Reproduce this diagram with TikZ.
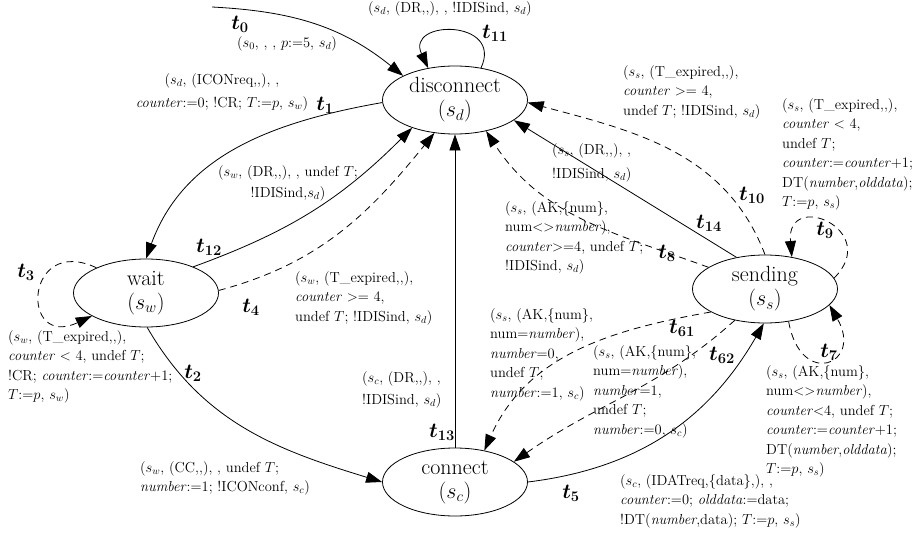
\RequirePackage{fix-cm}
\documentclass[tikz,border=0pt]{standalone}
\usepackage{amsmath}
\usepackage{bm}
\usepackage{tikz}
\usetikzlibrary{arrows.meta,shapes.geometric}

\tikzset{
  stnode/.style={draw, ellipse, line width=0.8pt, minimum width=145pt, minimum height=68pt,
    inner sep=0pt, align=center, font=\fontsize{22}{24}\selectfont},
  trans/.style={-{Triangle[length=16pt,width=11pt]}, line width=0.8pt},
  dsh/.style={trans, dash pattern=on 7pt off 5pt},
  lab/.style={anchor=north west, inner sep=0pt, align=left, font=\fontsize{14.5}{19.5}\selectfont},
  tlab/.style={inner sep=0pt, font=\fontsize{21}{22}\selectfont},
}

\begin{document}
\begin{tikzpicture}[x=1pt,y=1pt]
\useasboundingbox (0,0) rectangle (914,-535);

% 状態
\node[stnode] (disc) at (455,-100) {disconnect\\($s_d$)};
\node[stnode] (wait) at (146,-293) {wait\\($s_w$)};
\node[stnode] (send) at (765,-289) {sending\\($s_s$)};
\node[stnode] (conn) at (455,-482) {connect\\($s_c$)};
\coordinate (start) at (212,-7);

% 遷移
\draw[trans] (start) to[out=-3,in=141] (disc.155);
\draw[trans] (disc.51) to[out=65,in=115,looseness=2.6] (disc.130);
\draw[trans] (disc.182) to[out=190,in=70] (wait.90);
\draw[trans] (wait.29) to[out=20,in=225] (disc.213);
\draw[dsh] (wait.2) to[out=15,in=231] (disc.238);
\draw[dsh] (wait.153) to[out=155,in=205,looseness=4.2] (wait.203);
\draw[trans] (wait.272) to[out=-60,in=163] (conn.180);
\draw[trans] (conn.90) -- (disc.270);
\draw[trans] (conn.0) to[out=7,in=240] (send.268);
\draw[dsh] (send.203) to[out=190,in=66] (conn.47);
\draw[dsh] (send.226) to[out=222,in=35] (conn.19);
\draw[trans] (send.132) -- (disc.341);
\draw[dsh] (send.90) to[out=111,in=345] (disc.358);
\draw[dsh] (send.159) to[out=160,in=303] (disc.315);
\draw[dsh] (send.9) to[out=45,in=95,looseness=3.7] (send.50);
\draw[dsh] (send.306) to[out=-80,in=-60,looseness=4] (send.346);

% 遷移名
\foreach \n/\x/\y in {0/240/24, 1/325/105, 2/193/373, 3/26/272, 4/251/307, 5/571/493,
    61/682/328, 62/722/355, 7/829/352, 8/667/253, 9/825/230, 10/752/195,
    11/495/33, 12/209/247, 13/442/432, 14/709/223}
  \node[tlab] (t\n) at (\x,-\y) {$\bm{t}_{\mathbf{\n}}$};

% ラベル
\node[lab] (l0) at (237,-36) {($s_0$, , , $p$:=5, $s_d$)};
\node[lab] (l11) at (368,-1) {($s_d$, (DR,{},), , !IDISind, $s_d$)};
\node[lab, anchor=north, align=center] (l1) at (222,-73)
  {($s_d$, (ICONreq,{},), ,\\[4pt] \emph{counter}:=0; !CR; $T$:=$p$, $s_w$)};
\node[lab, anchor=north, align=center] (l12) at (288,-165)
  {($s_w$, (DR,{},), , undef $T$;\\[1.5pt] !IDISind,$s_d$)};
\node[lab] (l4) at (295,-271)
  {($s_w$, (T\_expired,{},),\\ \emph{counter} >= 4,\\ undef $T$; !IDISind, $s_d$)};
\node[lab] (l3) at (8,-330)
  {($s_w$, (T\_expired,{},),\\ \emph{counter} < 4, undef $T$;\\
   !CR; \emph{counter}:=\emph{counter}+1;\\ $T$:=$p$, $s_w$)};
\node[lab] (l13) at (362,-371) {($s_c$, (DR,{},), ,\\[2.5pt] !IDISind, $s_d$)};
\node[lab] (l2) at (140,-461)
  {($s_w$, (CC,{},), , undef $T$;\\ \emph{number}:=1; !ICONconf, $s_c$)};
\node[lab] (l5) at (620,-474)
  {($s_c$, (IDATreq,\{data\},), ,\\ \emph{counter}:=0; \emph{olddata}:=data;\\
   !DT(\emph{number},data); $T$:=$p$, $s_s$)};
\node[lab] (l7) at (766,-365)
  {($s_s$, (AK,\{num\},\\ num<>\emph{number}),\\ \emph{counter}<4, undef $T$;\\
   \emph{counter}:=\emph{counter}+1;\\ DT(\emph{number},\emph{olddata});\\ $T$:=$p$, $s_s$)};
\node[lab] (l62) at (593,-345)
  {($s_s$, (AK,\{num\},\\ num=\emph{number}),\\ \emph{number}=1,\\ undef $T$;\\ \emph{number}:=0, $s_c$)};
\node[lab] (l61) at (490,-308)
  {($s_s$, (AK,\{num\},\\ num=\emph{number}),\\ \emph{number}=0,\\ undef $T$;\\ \emph{number}:=1, $s_c$)};
\node[lab] (l8) at (505,-201)
  {($s_s$, (AK,\{num\},\\ num<>\emph{number}),\\ \emph{counter}>=4, undef $T$;\\ !IDISind, $s_d$)};
\node[lab] (l14) at (552,-143) {($s_s$, (DR,{},), ,\\[5pt] !IDISind, $s_d$)};
\node[lab] (l10) at (623,-65)
  {($s_s$, (T\_expired,{},),\\ \emph{counter} >= 4,\\ undef $T$; !IDISind, $s_d$)};
\node[lab] (l9) at (782,-98)
  {($s_s$, (T\_expired,{},),\\ \emph{counter} < 4,\\ undef $T$;\\
   \emph{counter}:=\emph{counter}+1;\\ DT(\emph{number},\emph{olddata});\\ $T$:=$p$, $s_s$)};

\end{tikzpicture}
\end{document}
